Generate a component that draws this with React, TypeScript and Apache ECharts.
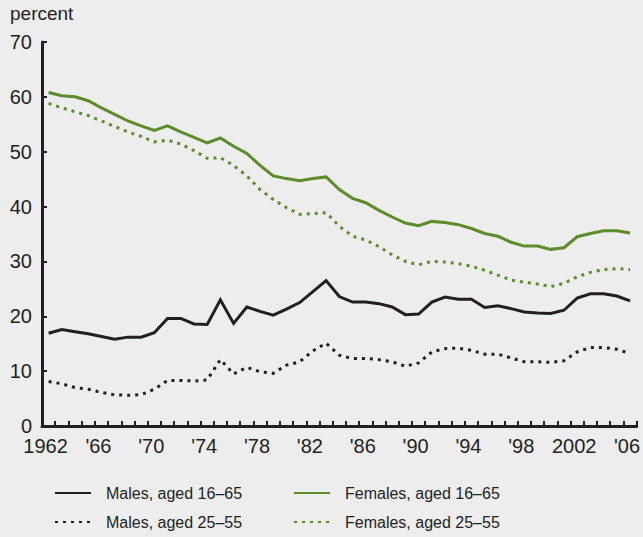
import React, { useEffect, useRef } from "react";
import * as echarts from "echarts";

const years = [
  "1962", "1963", "1964", "1965", "1966", "1967", "1968", "1969", "1970", "1971",
  "1972", "1973", "1974", "1975", "1976", "1977", "1978", "1979", "1980", "1981",
  "1982", "1983", "1984", "1985", "1986", "1987", "1988", "1989", "1990", "1991",
  "1992", "1993", "1994", "1995", "1996", "1997", "1998", "1999", "2000", "2001",
  "2002", "2003", "2004", "2005", "2006",
];

const tickLabels = ["1962", "'66", "'70", "'74", "'78", "'82", "'86", "'90", "'94", "'98", "2002", "'06"];

const yTicks = [0, 10, 20, 30, 40, 50, 60, 70];

const males1665 = [
  16.9, 17.6, 17.2, 16.8, 16.3, 15.8, 16.2, 16.2, 17.0, 19.6,
  19.6, 18.6, 18.5, 23.0, 18.7, 21.7, 20.9, 20.2, 21.3, 22.5,
  24.5, 26.5, 23.6, 22.6, 22.6, 22.3, 21.7, 20.3, 20.4, 22.6,
  23.5, 23.1, 23.1, 21.6, 21.9, 21.4, 20.8, 20.6, 20.5, 21.1,
  23.3, 24.1, 24.1, 23.7, 22.8,
];

const males2555 = [
  8.1, 7.7, 7.0, 6.7, 6.1, 5.7, 5.6, 5.7, 6.7, 8.3,
  8.3, 8.2, 8.4, 12.1, 9.5, 10.7, 9.9, 9.6, 11.1, 11.7,
  13.7, 15.1, 12.9, 12.3, 12.3, 12.1, 11.7, 10.9, 11.5, 13.5,
  14.1, 14.2, 13.8, 13.1, 13.1, 12.4, 11.7, 11.7, 11.6, 11.9,
  13.5, 14.3, 14.3, 14.0, 13.2,
];

const females1665 = [
  60.8, 60.2, 60.0, 59.3, 58.0, 56.8, 55.6, 54.7, 53.9, 54.7,
  53.6, 52.6, 51.6, 52.5, 51.0, 49.7, 47.5, 45.6, 45.1, 44.7,
  45.1, 45.4, 43.1, 41.5, 40.7, 39.3, 38.1, 37.0, 36.5, 37.3,
  37.1, 36.7, 36.0, 35.1, 34.6, 33.5, 32.8, 32.8, 32.2, 32.5,
  34.5, 35.1, 35.6, 35.6, 35.2,
];

const females2555 = [
  58.8, 58.0, 57.3, 56.6, 55.6, 54.6, 53.6, 52.8, 51.8, 52.1,
  51.4, 50.2, 48.8, 48.9, 47.5, 45.6, 43.1, 41.3, 39.8, 38.6,
  38.7, 38.9, 36.4, 34.6, 33.9, 32.7, 31.2, 30.0, 29.4, 30.0,
  29.9, 29.6, 29.1, 28.4, 27.5, 26.6, 26.2, 25.9, 25.4, 26.0,
  27.2, 28.0, 28.5, 28.7, 28.5,
];

const names = {
  m1: "Males, aged 16\u201365",
  m2: "Males, aged 25\u201355",
  f1: "Females, aged 16\u201365",
  f2: "Females, aged 25\u201355",
};

export default function App() {
  const ref = useRef<HTMLDivElement>(null);

  useEffect(() => {
    const chart = echarts.init(ref.current as HTMLDivElement, null, { renderer: "svg" });
    const ink = "#231f20";
    const green = "#5b8d2a";
    const bg = "#ededed";
    const font = "'Liberation Sans', Arial, sans-serif";
    const dots = [3, 5];

    const mkLegend = (name: string, left: number, top: number) => ({
      show: true,
      data: [name],
      left,
      top,
      orient: "horizontal",
      itemWidth: 36,
      itemHeight: 16,
      padding: 0,
      selectedMode: false,
      itemStyle: { opacity: 0 },
      textStyle: {
        fontFamily: font,
        fontSize: 16,
        lineHeight: 16,
        color: ink,
        padding: [0, 0, 0, 10],
      },
    });

    const mkSeries = (name: string, data: number[], color: string, dotted: boolean) => ({
      name,
      type: "line",
      data,
      symbol: "none",
      showSymbol: false,
      silent: true,
      z: dotted ? 2 : 3,
      lineStyle: {
        color,
        width: 3,
        type: dotted ? dots : "solid",
        cap: "butt",
        join: "miter",
      },
      itemStyle: { color },
    });

    chart.setOption({
      animation: false,
      backgroundColor: bg,
      textStyle: { fontFamily: font },
      grid: { left: 42, right: 1, top: 42, bottom: 111, containLabel: false },
      legend: [
        mkLegend(names.m1, 54, 485),
        mkLegend(names.f1, 293, 485),
        mkLegend(names.m2, 54, 514),
        mkLegend(names.f2, 293, 514),
      ],
      graphic: [
        {
          type: "text",
          left: 10,
          top: 4,
          style: { text: "percent", fontFamily: font, fontSize: 19, fill: ink },
        },
      ],
      xAxis: {
        type: "category",
        data: years,
        boundaryGap: true,
        axisLine: { show: true, lineStyle: { color: ink, width: 3 } },
        axisTick: {
          show: true,
          inside: true,
          length: 5,
          interval: 0,
          lineStyle: { color: ink, width: 2 },
        },
        axisLabel: {
          interval: 3,
          margin: 10,
          color: ink,
          fontFamily: font,
          fontSize: 20,
          padding: [0, 6, 0, 0],
          formatter: (_v: string, i: number) => tickLabels[i / 4] ?? "",
        },
        splitLine: { show: false },
      },
      yAxis: {
        type: "value",
        min: yTicks[0],
        max: yTicks[yTicks.length - 1],
        interval: 10,
        axisLine: { show: true, lineStyle: { color: ink, width: 3 } },
        axisTick: { show: true, inside: true, length: 5, lineStyle: { color: ink, width: 2 } },
        axisLabel: { margin: 10, color: ink, fontFamily: font, fontSize: 20 },
        splitLine: { show: false },
      },
      series: [
        mkSeries(names.m2, males2555, ink, true),
        mkSeries(names.f2, females2555, green, true),
        mkSeries(names.m1, males1665, ink, false),
        mkSeries(names.f1, females1665, green, false),
      ],
    });

    return () => chart.dispose();
  }, []);

  return (
    <div
      ref={ref}
      style={{ position: "absolute", left: 0, top: 0, width: 643, height: 537, background: "#ededed" }}
    />
  );
}
